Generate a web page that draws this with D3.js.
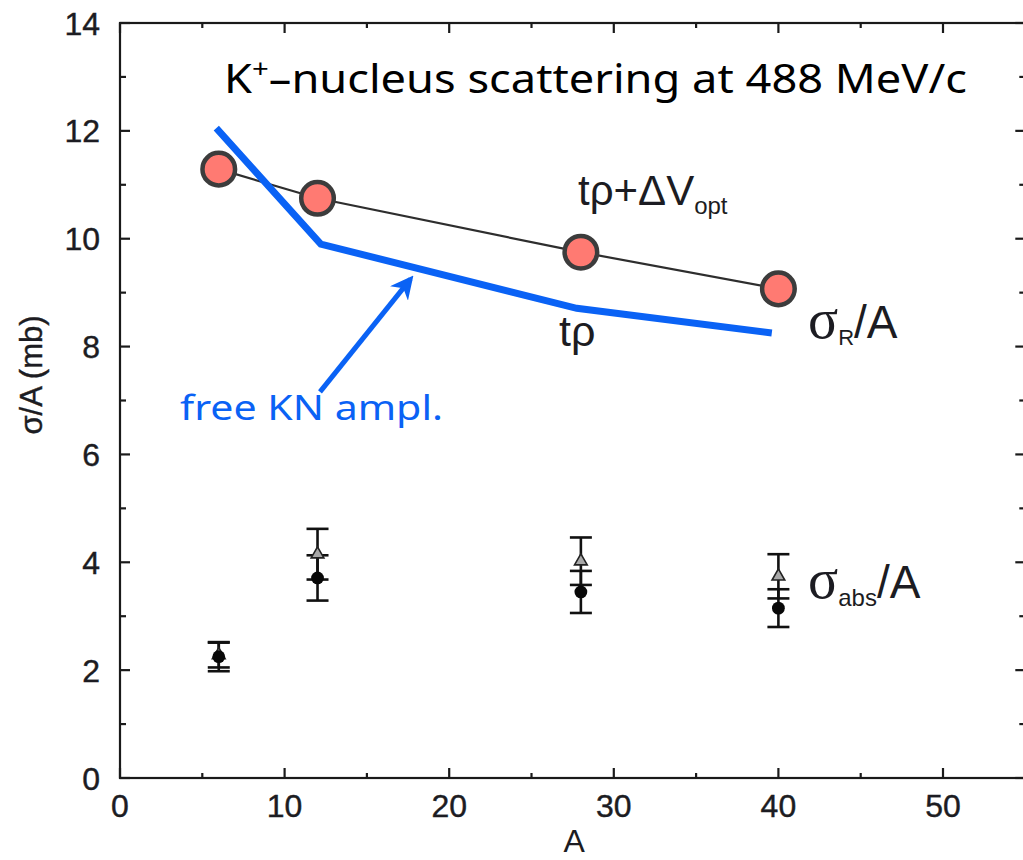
<!DOCTYPE html>
<html>
<head>
<meta charset="utf-8">
<script src="https://cdn.jsdelivr.net/npm/d3@7"></script>
<style>
  html, body { margin: 0; padding: 0; background: #fff; }
  svg { display: block; }
</style>
</head>
<body>
<svg id="chart" width="1023" height="860"></svg>
<script>
// Mass numbers of the target nuclei
const optA = [6, 12, 28, 40];
// sigma_R/A with t·rho + ΔV_opt (mb)
const optSigma = [11.29, 10.75, 9.75, 9.07];

// sigma_R/A with free KN amplitude t·rho (mb)
const tRhoA = [5.85, 12.2, 27.75, 39.6];
const tRhoSigma = [12.05, 9.9, 8.71, 8.25];

// Absorption cross sections sigma_abs/A (mb), two data sets with errors
const absA = [6, 12, 28, 40];
const absCircle = [2.25, 3.71, 3.45, 3.15];
const absCircleErr = [0.27, 0.42, 0.39, 0.35];
const absTriangle = [2.28, 4.15, 4.02, 3.74];
const absTriangleErr = [0.23, 0.47, 0.44, 0.41];

// Tick values
const xMajorTicks = [0, 10, 20, 30, 40, 50];
const xMinorTicks = [5, 15, 25, 35, 45];
const yMajorTicks = [0, 2, 4, 6, 8, 10, 12, 14];
const yMinorTicks = [1, 3, 5, 7, 9, 11, 13];

const svg = d3.select("#chart");
const x = d3.scaleLinear().domain([0, 55]).range([120, 1025.3]);
const y = d3.scaleLinear().domain([0, 14]).range([778, 23]);

const BLUE = "#0a62f5";
const INK = "#1c1c22";
const SANS = "'Liberation Sans', Arial, Helvetica, sans-serif";
const SERIF = "'Liberation Serif', 'Times New Roman', serif";
const TEXTSANS = "'Noto Sans', 'DejaVu Sans', sans-serif";

// ---- frame with inward ticks on all four sides ----
const frame = svg.append("g").attr("stroke", "#1a1a1a").attr("stroke-width", 2.2).attr("fill", "none");
frame.append("rect")
  .attr("x", x(0)).attr("y", y(14))
  .attr("width", x(55) - x(0)).attr("height", y(0) - y(14));

function xTicks(vals, len) {
  vals.forEach(v => {
    frame.append("line").attr("x1", x(v)).attr("x2", x(v)).attr("y1", y(0)).attr("y2", y(0) - len);
    frame.append("line").attr("x1", x(v)).attr("x2", x(v)).attr("y1", y(14)).attr("y2", y(14) + len);
  });
}
function yTicks(vals, len) {
  vals.forEach(v => {
    frame.append("line").attr("y1", y(v)).attr("y2", y(v)).attr("x1", x(0)).attr("x2", x(0) + len);
    frame.append("line").attr("y1", y(v)).attr("y2", y(v)).attr("x1", x(55)).attr("x2", x(55) - len);
  });
}
xTicks(xMajorTicks, 10);
xTicks(xMinorTicks, 5);
yTicks(yMajorTicks, 10);
yTicks(yMinorTicks, 6);

// tick labels
svg.append("g").selectAll("text").data(xMajorTicks).join("text")
  .attr("x", d => x(d)).attr("y", 817)
  .attr("text-anchor", "middle")
  .attr("font-family", SANS).attr("font-size", 32).attr("fill", INK)
  .attr("stroke", INK).attr("stroke-width", 0.4)
  .text(d => d);
svg.append("g").selectAll("text").data(yMajorTicks).join("text")
  .attr("x", 100).attr("y", d => y(d) + 11.5)
  .attr("text-anchor", "end")
  .attr("font-family", SANS).attr("font-size", 32).attr("fill", INK)
  .attr("stroke", INK).attr("stroke-width", 0.4)
  .text(d => d);

// axis titles
svg.append("text")
  .attr("x", x(27.6)).attr("y", 852)
  .attr("text-anchor", "middle")
  .attr("font-family", SANS).attr("font-size", 32).attr("fill", INK)
  .text("A");
svg.append("text")
  .attr("transform", "translate(42,375) rotate(-90)")
  .attr("text-anchor", "middle")
  .attr("font-family", SANS).attr("font-size", 31).attr("fill", INK)
  .attr("stroke", INK).attr("stroke-width", 0.4)
  .text("σ/A (mb)");

// ---- sigma_R/A, t·rho + ΔV_opt: thin line through large circles ----
const line = d3.line().x(d => x(d[0])).y(d => y(d[1]));
svg.append("path")
  .datum(d3.zip(optA, optSigma))
  .attr("d", line)
  .attr("fill", "none").attr("stroke", "#2e2e2e").attr("stroke-width", 2.2);

svg.append("g").selectAll("circle").data(d3.zip(optA, optSigma)).join("circle")
  .attr("cx", d => x(d[0])).attr("cy", d => y(d[1])).attr("r", 16.3)
  .attr("fill", "#ff7a72").attr("stroke", "#3c3c3c").attr("stroke-width", 4.5);

// ---- sigma_R/A, free KN amplitude t·rho ----
svg.append("path")
  .datum(d3.zip(tRhoA, tRhoSigma))
  .attr("d", line)
  .attr("fill", "none").attr("stroke", BLUE).attr("stroke-width", 7)
  .attr("stroke-linejoin", "miter").attr("stroke-linecap", "butt");

// ---- sigma_abs/A data with error bars ----
const CAP = 11;
function errorBars(vals, errs, cls) {
  const g = svg.append("g").attr("class", cls).attr("stroke", "#111").attr("stroke-width", 2.6);
  absA.forEach((a, i) => {
    const lo = vals[i] - errs[i], hi = vals[i] + errs[i];
    g.append("line").attr("x1", x(a)).attr("x2", x(a)).attr("y1", y(lo)).attr("y2", y(hi));
    g.append("line").attr("x1", x(a) - CAP).attr("x2", x(a) + CAP).attr("y1", y(lo)).attr("y2", y(lo));
    g.append("line").attr("x1", x(a) - CAP).attr("x2", x(a) + CAP).attr("y1", y(hi)).attr("y2", y(hi));
  });
}
errorBars(absTriangle, absTriangleErr, "tri-err");
errorBars(absCircle, absCircleErr, "circ-err");

const tri = d3.symbol().type(d3.symbolTriangle).size(70);
svg.append("g").selectAll("path").data(d3.zip(absA, absTriangle)).join("path")
  .attr("transform", d => `translate(${x(d[0])},${y(d[1])})`)
  .attr("d", tri)
  .attr("fill", "#a8a8a8").attr("stroke", "#222").attr("stroke-width", 1.6);

svg.append("g").selectAll("circle").data(d3.zip(absA, absCircle)).join("circle")
  .attr("cx", d => x(d[0])).attr("cy", d => y(d[1])).attr("r", 6.4)
  .attr("fill", "#080808");

// ---- annotations ----
// title
const title = svg.append("text")
  .attr("x", 224).attr("y", 93)
  .attr("font-family", TEXTSANS).attr("font-size", 40).attr("fill", "#000")
  .attr("textLength", 743).attr("lengthAdjust", "spacingAndGlyphs");
title.append("tspan").text("K");
title.append("tspan").attr("font-size", 26).attr("dy", -15).text("+");
title.append("tspan").attr("dy", 15).text("–nucleus scattering at 488 MeV/c");

// t·rho + ΔV_opt
const lab1 = svg.append("text")
  .attr("x", 578).attr("y", 205)
  .attr("font-family", SANS).attr("font-size", 42).attr("fill", INK);
lab1.append("tspan").text("tρ+ΔV");
lab1.append("tspan").attr("font-size", 24).attr("dy", 9).text("opt");

// t·rho
svg.append("text")
  .attr("x", 559).attr("y", 346)
  .attr("font-family", SANS).attr("font-size", 43).attr("fill", INK)
  .text("tρ");

// sigma_R/A
const lab3 = svg.append("text")
  .attr("x", 808).attr("y", 338)
  .attr("font-family", SANS).attr("font-size", 46).attr("fill", INK);
lab3.append("tspan").attr("font-family", SERIF).attr("font-size", 56).text("σ");
lab3.append("tspan").attr("font-size", 22).attr("dy", 7).text("R");
lab3.append("tspan").attr("dy", -7).text("/A");

// sigma_abs/A
const lab4 = svg.append("text")
  .attr("x", 808).attr("y", 598)
  .attr("font-family", SANS).attr("font-size", 46).attr("fill", INK);
lab4.append("tspan").attr("font-family", SERIF).attr("font-size", 56).text("σ");
lab4.append("tspan").attr("font-size", 24).attr("dy", 8).text("abs");
lab4.append("tspan").attr("dy", -8).text("/A");

// free KN amplitude label and arrow
svg.append("text")
  .attr("x", 180).attr("y", 420)
  .attr("font-family", TEXTSANS).attr("font-size", 34).attr("fill", BLUE)
  .attr("textLength", 263).attr("lengthAdjust", "spacingAndGlyphs")
  .text("free KN ampl.");

svg.append("defs").append("marker")
  .attr("id", "arrowhead").attr("viewBox", "0 0 10 10")
  .attr("refX", 8).attr("refY", 5)
  .attr("markerWidth", 4.6).attr("markerHeight", 4.6)
  .attr("markerUnits", "strokeWidth")
  .attr("orient", "auto")
  .append("path").attr("d", "M0,0 L10,5 L0,10 L3,5 Z").attr("fill", BLUE);

const arrowFrom = [12.15, 7.16], arrowTo = [17.65, 9.25];
svg.append("line")
  .attr("x1", x(arrowFrom[0])).attr("y1", y(arrowFrom[1]))
  .attr("x2", x(arrowTo[0])).attr("y2", y(arrowTo[1]))
  .attr("stroke", BLUE).attr("stroke-width", 5)
  .attr("marker-end", "url(#arrowhead)");
</script>
</body>
</html>
